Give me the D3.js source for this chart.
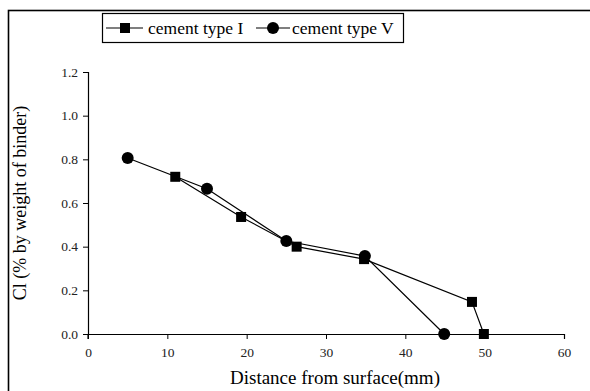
<!DOCTYPE html>
<html><head><meta charset="utf-8">
<script src="https://cdn.jsdelivr.net/npm/d3@7"></script>
<style>body{margin:0;background:#fff}svg{display:block}</style>
</head><body><svg id="c" width="590" height="391"></svg>
<script>
const seriesNames = ["cement type I", "cement type V"];
const typeI_x = [11, 19.3, 26.3, 34.8, 48.4, 49.9];
const typeI_y = [0.72, 0.536, 0.40, 0.343, 0.147, 0.0];
const typeV_x = [5, 15, 25, 34.9, 44.9];
const typeV_y = [0.806, 0.665, 0.426, 0.357, 0.0];
const xTicks = [0, 10, 20, 30, 40, 50, 60];
const yTicks = [0.0, 0.2, 0.4, 0.6, 0.8, 1.0, 1.2];
const xTitle = "Distance from surface(mm)";
const yTitle = "Cl (% by weight of binder)";
const FONT = "'Liberation Serif', serif";

const svg = d3.select("#c");
svg.append("rect").attr("x", 8.5).attr("y", 10.5).attr("width", 600).attr("height", 400)
  .attr("fill", "none").attr("stroke", "#000").attr("stroke-width", 1.6);

const x = d3.scaleLinear().domain([0, 60]).range([88, 564]);
const y = d3.scaleLinear().domain([0, 1.2]).range([334, 72]);

const xa = svg.append("g").attr("transform", "translate(0,334)")
  .call(d3.axisBottom(x).tickValues(xTicks).tickSize(5).tickPadding(8).tickFormat(d3.format("d")));
const ya = svg.append("g").attr("transform", "translate(88,0)")
  .call(d3.axisLeft(y).tickValues(yTicks).tickSize(5).tickPadding(5).tickFormat(d3.format(".1f")));
[xa, ya].forEach(a => {
  a.attr("font-size", 13);
  a.select(".domain").attr("stroke", "#000").attr("stroke-width", 1.2);
  a.selectAll(".tick line").attr("stroke", "#000").attr("stroke-width", 1);
  a.selectAll(".tick text").attr("fill", "#222").style("font-family", FONT).style("font-size", "13.5px");
});
ya.select(".domain").attr("d", "M-5,72.5H0.5V334.5");
xa.select(".domain").attr("d", "M88,5V0.5H564.5V5");

svg.append("text").attr("x", 335).attr("y", 384).attr("text-anchor", "middle")
  .style("font-family", FONT).style("font-size", "19px").text(xTitle);
svg.append("text").attr("transform", "translate(26,203) rotate(-90)").attr("text-anchor", "middle")
  .style("font-family", FONT).style("font-size", "18px").text(yTitle);

const line = d3.line().x(d => x(d[0])).y(d => y(d[1]));
const dI = typeI_x.map((v, i) => [v, typeI_y[i]]);
const dV = typeV_x.map((v, i) => [v, typeV_y[i]]);
svg.append("path").attr("d", line(dI)).attr("fill", "none").attr("stroke", "#000").attr("stroke-width", 1.2);
svg.append("path").attr("d", line(dV)).attr("fill", "none").attr("stroke", "#000").attr("stroke-width", 1.2);
svg.selectAll(".sq").data(dI).enter().append("rect")
  .attr("x", d => x(d[0]) - 5).attr("y", d => y(d[1]) - 5).attr("width", 10).attr("height", 10).attr("fill", "#000");
svg.selectAll(".ci").data(dV).enter().append("circle")
  .attr("cx", d => x(d[0])).attr("cy", d => y(d[1])).attr("r", 6).attr("fill", "#000");

// legend
const lg = svg.append("g");
lg.append("rect").attr("x", 102.5).attr("y", 13.5).attr("width", 301).attr("height", 29)
  .attr("fill", "#fff").attr("stroke", "#000").attr("stroke-width", 1.2);
lg.append("line").attr("x1", 106).attr("x2", 143).attr("y1", 28).attr("y2", 28).attr("stroke", "#000").attr("stroke-width", 1.2);
lg.append("rect").attr("x", 120).attr("y", 23).attr("width", 10).attr("height", 10).attr("fill", "#000");
lg.append("text").attr("x", 148).attr("y", 34).style("font-family", FONT).style("font-size", "17.5px").text(seriesNames[0]);
lg.append("line").attr("x1", 256).attr("x2", 290).attr("y1", 28).attr("y2", 28).attr("stroke", "#000").attr("stroke-width", 1.2);
lg.append("circle").attr("cx", 273).attr("cy", 28).attr("r", 6).attr("fill", "#000");
lg.append("text").attr("x", 292).attr("y", 34).style("font-family", FONT).style("font-size", "17.5px").text(seriesNames[1]);
</script></body></html>
